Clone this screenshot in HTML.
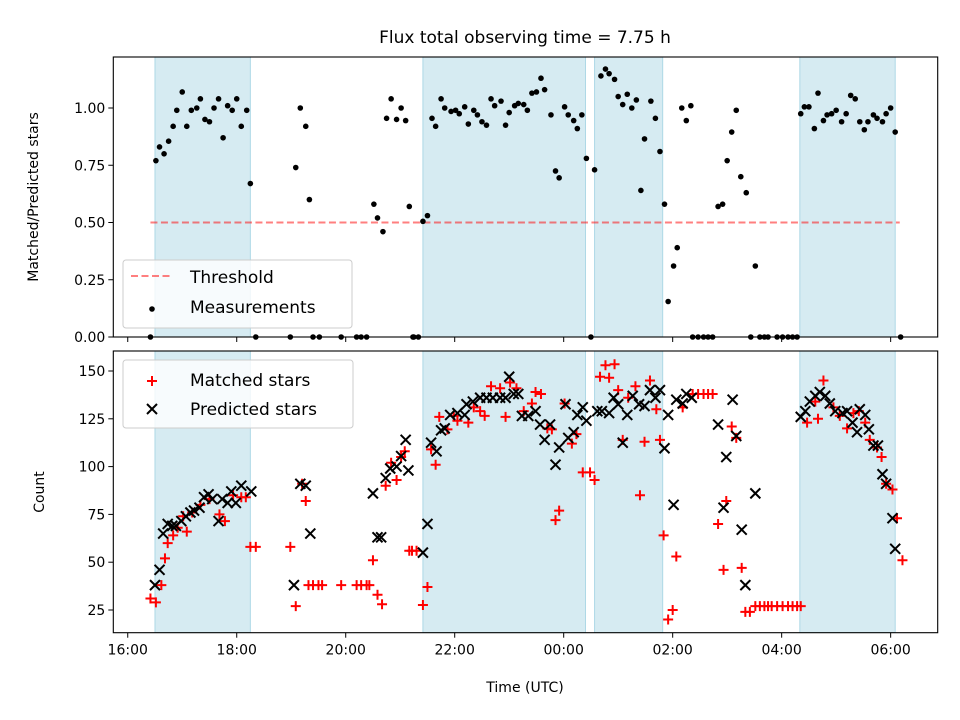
<!DOCTYPE html>
<html><head><meta charset="utf-8"><style>
html,body{margin:0;padding:0;background:#fff;}
svg{display:block;font-family:"DejaVu Sans","Liberation Sans",sans-serif;}
</style></head><body>
<svg id="chart" width="960" height="720" viewBox="0 0 960 720" xmlns="http://www.w3.org/2000/svg">
<rect width="960" height="720" fill="#fff"/>
<text x="525" y="43" font-size="17" text-anchor="middle" fill="#000">Flux total observing time = 7.75 h</text>
<g id="topPanel"></g>
<g id="botPanel"></g>
<text transform="translate(38,197) rotate(-90)" font-size="14" text-anchor="middle">Matched/Predicted stars</text>
<text transform="translate(44,492) rotate(-90)" font-size="14" text-anchor="middle">Count</text>
<text x="525" y="692" font-size="14" text-anchor="middle">Time (UTC)</text>
</svg>
<script>
// minutes since 16:00 UTC
const spanStart = [30, 325, 514, 740];
const spanEnd = [135, 504, 589, 845];
const thresholdValue = 0.5;
const thresholdStart = 25;
const thresholdEnd = 850;
const ratioTimes = [31,35,40,45,50,54,60,65,70,76,80,85,90,95,100,105,110,115,120,125,131,135,185,190,196,200,271,275,281,285,290,296,301,306,310,325,330,335,339,345,349,356,361,365,371,375,381,385,390,395,400,404,411,416,420,426,430,436,440,445,450,455,459,466,471,475,481,485,491,495,500,505,514,521,526,530,536,540,545,550,555,560,565,569,576,581,586,591,595,601,605,610,615,620,650,655,660,665,670,675,681,691,741,745,750,756,760,766,770,775,780,786,791,796,801,806,811,815,821,825,831,835,840,845,
25,141,179,204,211,235,252,257,263,314,315,320,510,622,628,634,639,644,686,696,701,705,715,721,727,732,737,851];
const ratioValues = [0.77,0.83,0.80,0.855,0.92,0.99,1.07,0.92,0.99,1.00,1.04,0.95,0.94,1.00,1.04,0.87,1.01,0.99,1.04,0.92,0.99,0.67,0.74,1.00,0.92,0.60,0.58,0.52,0.46,0.955,1.04,0.95,1.00,0.945,0.57,0.505,0.53,0.955,0.92,1.04,1.00,0.985,0.99,0.975,1.005,0.93,0.99,0.97,0.94,0.925,1.04,1.01,1.03,0.925,0.98,1.01,1.02,1.015,0.99,1.065,1.07,1.13,1.08,0.97,0.725,0.695,1.005,0.97,0.945,0.91,0.97,0.78,0.73,1.14,1.17,1.15,1.125,1.05,1.015,1.06,1.00,1.035,0.64,0.865,1.03,0.955,0.81,0.58,0.155,0.31,0.39,1.00,0.945,1.01,0.57,0.58,0.77,0.895,0.99,0.70,0.63,0.31,0.975,1.005,1.005,0.91,1.065,0.945,0.97,0.975,0.99,0.94,0.975,1.055,1.04,0.94,0.905,0.94,0.97,0.955,0.94,0.975,1.00,0.895,
0,0,0,0,0,0,0,0,0,0,0,0,0,0,0,0,0,0,0,0,0,0,0,0,0,0,0,0];
const predTimes = [30,35,39,44,49,53,59,64,69,73,79,84,89,93,100,104,110,114,119,125,136,183,190,196,201,270,275,279,284,289,296,301,306,309,325,330,334,340,345,349,355,363,371,373,380,388,395,402,410,416,420,425,430,434,441,449,454,459,465,471,475,482,485,491,495,501,505,517,522,530,535,540,545,550,556,563,569,575,581,586,591,595,601,604,611,615,621,650,656,659,666,670,676,680,691,741,746,751,757,762,768,773,779,787,792,798,803,806,812,816,821,826,831,835,842,845];
const predValues = [38,46,65,70,69,69,71.5,74,76,77,78.5,84,85.5,83,71.5,83,81,87,81,90,87,38,91,90,65,86,63,63,94,99,100,105.5,114,98,55,70,112.5,108,119,120,127,128,127,132.6,134,136,136,136,136,136,147,138,138,126.5,126.5,129,122,114,122,101,110,132.6,115,118,127,131,124,129,129,128,136,132.6,112.5,127,137,132.6,131.7,140,136,140,109.6,127,80,135,133,138,136,122,78.5,105,135,116,67,38,86,126,129,134,137,139,137,133,129,128,129,123,118,130,127,119.5,111,111,96,91,73,57];
const matchTimes = [25,31,37,41,44,50,55,61,65,71,80,90,101,107,116,125,130,135,141,179,185,192,196,199,204,210,214,235,252,257,263,266,270,275,280,284,290,296,301,305,310,313,318,325,330,334,339,343,352,359,363,375,381,388,393,400,410,416,421,428,436,445,449,455,462,467,471,475,481,489,494,501,509,514,520,526,530,536,540,545,551,559,564,569,575,582,586,590,595,600,604,611,622,628,634,639,644,650,656,659,665,670,676,680,685,691,696,701,705,709,715,721,727,732,737,741,748,757,760,766,777,784,792,799,805,812,817,825,830,835,842,847,853];
const matchValues = [31,29,38,52,60,64,68,74,66,76,80,83,75,71.5,85,84,84,58,58,58,27,91,82,38,38,38,38,38,38,38,38,38,51,33,28,90,102,93,105,108,56,56,56,27.6,37,109,101,126,119.5,126.5,124,123,131,129,126.5,142,141,126,144,141,129,133,139,138,120,119.5,72,77,133,112,117,97,97,93,147,153,146.5,153.5,140,114,136,142,85,113,145,130,114,64,20,25,53,131,138,138,138,138,138,70,46,82,121,115,47,24,24,27,27,27,27,27,27,27,27,27,27,27,123,134,125,145,131,126.5,120,128,129,123,114,110,105,91,88,73,51,51];
const xTickMinutes = [0,120,240,360,480,600,720,840];
const xTickLabels = ["16:00","18:00","20:00","22:00","00:00","02:00","04:00","06:00"];
const topTicks = [0,0.25,0.5,0.75,1.0];
const topTickLabels = ["0.00","0.25","0.50","0.75","1.00"];
const botTicks = [25,50,75,100,125,150];
const botTickLabels = ["25","50","75","100","125","150"];

const NS = "http://www.w3.org/2000/svg";
const L = 113.3, R = 937.7;
const T1 = 57, B1 = 337, T2 = 351, B2 = 632.7;
const xMin = -15.9, xMax = 891.8;
function xs(m){ return L + (m - xMin) / (xMax - xMin) * (R - L); }
function ysTop(v){ return B1 - v * 229; }
function ysBot(c){ return 371 - (c - 150) * 1.912; }
function mk(tag, attrs, parent){
  const e = document.createElementNS(NS, tag);
  for (const k in attrs) e.setAttribute(k, attrs[k]);
  parent.appendChild(e);
  return e;
}
const topG = document.getElementById('topPanel');
const botG = document.getElementById('botPanel');

function panel(g, T, B, name){
  const cp = mk('clipPath', {id: 'clip-' + name}, g);
  mk('rect', {x: L, y: T, width: R - L, height: B - T}, cp);
  const inner = mk('g', {'clip-path': 'url(#clip-' + name + ')'}, g);
  for (let i = 0; i < spanStart.length; i++){
    const r = mk('rect', {x: xs(spanStart[i]), y: T, width: xs(spanEnd[i]) - xs(spanStart[i]), height: B - T, fill: '#add8e6', 'fill-opacity': 0.5, stroke: '#add8e6', 'stroke-width': 1}, inner);
    
    
  }
  return inner;
}
function frame(g, T, B, name, labels){
  const f = mk('rect', {x: L, y: T, width: R - L, height: B - T, fill: 'none', stroke: '#000', 'stroke-width': 1.1}, g);
  
  
  for (let i = 0; i < xTickMinutes.length; i++){
    const x = xs(xTickMinutes[i]);
    const t = mk('line', {x1: x, x2: x, y1: B, y2: B + 5, stroke: '#000', 'stroke-width': 1}, g);
    
    
    if (labels){
      const tx = mk('text', {x: x, y: B + 22, 'font-size': 14, 'text-anchor': 'middle'}, g);
      tx.textContent = xTickLabels[i];
      
      
    }
  }
}

// ---- top panel ----
const ti = panel(topG, T1, B1, 'top');
const th = mk('line', {x1: xs(thresholdStart), x2: xs(thresholdEnd), y1: ysTop(thresholdValue), y2: ysTop(thresholdValue), stroke: '#ff0000', 'stroke-opacity': 0.5, 'stroke-width': 2, 'stroke-dasharray': '7,3.5'}, ti);


for (let i = 0; i < ratioTimes.length; i++){
  const c = mk('circle', {cx: xs(ratioTimes[i]), cy: ysTop(ratioValues[i]), r: 2.8, fill: '#000'}, topG);
  
  
}
for (let i = 0; i < topTicks.length; i++){
  const y = ysTop(topTicks[i]);
  mk('line', {x1: L - 5, x2: L, y1: y, y2: y, stroke: '#000', 'stroke-width': 1}, topG);
  const tx = mk('text', {x: L - 8, y: y + 5, 'font-size': 14, 'text-anchor': 'end'}, topG);
  tx.textContent = topTickLabels[i];
  
  
}
frame(topG, T1, B1, 'top', false);
const lg1 = mk('g', {}, topG);


mk('rect', {x: 123, y: 260, width: 229, height: 68, rx: 3, fill: '#fff', 'fill-opacity': 0.8, stroke: '#ccc', 'stroke-width': 1}, lg1);
mk('line', {x1: 131, x2: 173, y1: 276, y2: 276, stroke: '#ff0000', 'stroke-opacity': 0.5, 'stroke-width': 2, 'stroke-dasharray': '7,3.5'}, lg1);
const lt1 = mk('text', {x: 190, y: 283, 'font-size': 17}, lg1); lt1.textContent = 'Threshold';


mk('circle', {cx: 152, cy: 309, r: 2.8, fill: '#000'}, lg1);
const lt2 = mk('text', {x: 190, y: 313, 'font-size': 17}, lg1); lt2.textContent = 'Measurements';



// ---- bottom panel ----
panel(botG, T2, B2, 'bot');
function plus(x, y, g){
  return mk('path', {d: `M${x-5},${y}H${x+5}M${x},${y-5}V${y+5}`, stroke: '#ff0000', 'stroke-width': 2, fill: 'none'}, g);
}
function cross(x, y, g){
  return mk('path', {d: `M${x-5},${y-5}L${x+5},${y+5}M${x-5},${y+5}L${x+5},${y-5}`, stroke: '#000', 'stroke-width': 2, fill: 'none'}, g);
}
for (let i = 0; i < matchTimes.length; i++){
  const p = plus(xs(matchTimes[i]), ysBot(matchValues[i]), botG);
  
  
}
for (let i = 0; i < predTimes.length; i++){
  const p = cross(xs(predTimes[i]), ysBot(predValues[i]), botG);
  
  
}
for (let i = 0; i < botTicks.length; i++){
  const y = ysBot(botTicks[i]);
  mk('line', {x1: L - 5, x2: L, y1: y, y2: y, stroke: '#000', 'stroke-width': 1}, botG);
  const tx = mk('text', {x: L - 8, y: y + 5, 'font-size': 14, 'text-anchor': 'end'}, botG);
  tx.textContent = botTickLabels[i];
  
  
}
frame(botG, T2, B2, 'bottom', true);
const lg2 = mk('g', {}, botG);


mk('rect', {x: 123, y: 360, width: 230, height: 68, rx: 3, fill: '#fff', 'fill-opacity': 0.8, stroke: '#ccc', 'stroke-width': 1}, lg2);
plus(152, 381, lg2);
const lt3 = mk('text', {x: 190, y: 386, 'font-size': 17}, lg2); lt3.textContent = 'Matched stars';


cross(152, 409, lg2);
const lt4 = mk('text', {x: 190, y: 415, 'font-size': 17}, lg2); lt4.textContent = 'Predicted stars';


</script>
</body></html>
